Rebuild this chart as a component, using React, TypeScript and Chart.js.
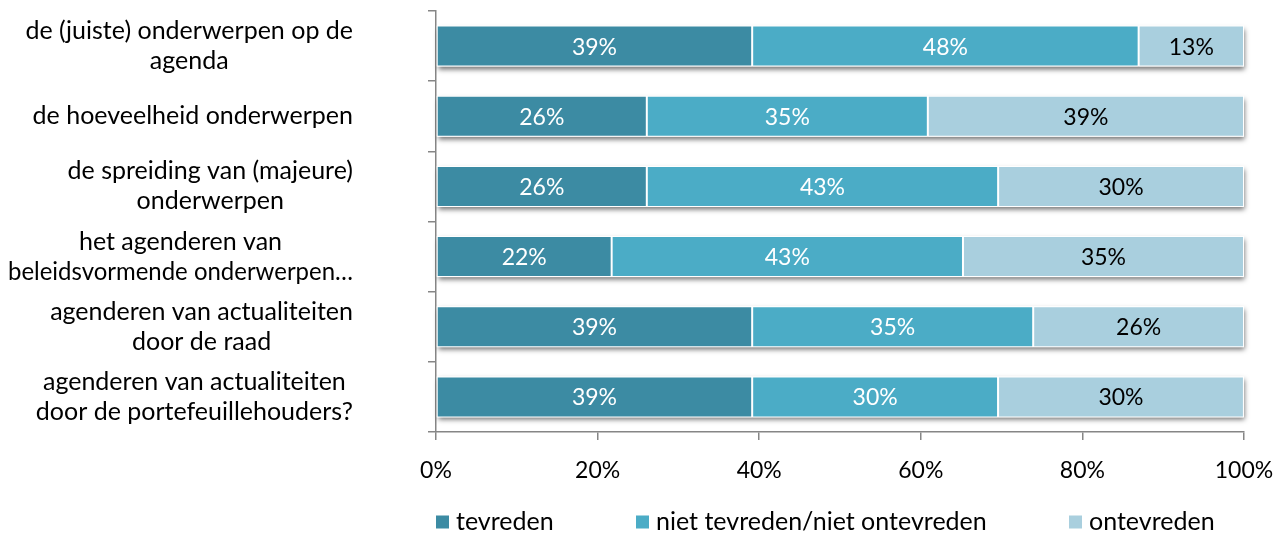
import React, { useEffect, useLayoutEffect, useRef } from "react";
import { Chart, registerables } from "chart.js";

Chart.register(...registerables);

const categories: string[][] = [
  ["de (juiste) onderwerpen op de", "agenda"],
  ["de hoeveelheid onderwerpen"],
  ["de spreiding van (majeure)", "onderwerpen"],
  ["het agenderen van", "beleidsvormende onderwerpen…"],
  ["agenderen van actualiteiten", "door de raad"],
  ["agenderen van actualiteiten", "door de portefeuillehouders?"],
];
const seriesNames = ["tevreden", "niet tevreden/niet ontevreden", "ontevreden"];
const tevreden = [39.13, 26.09, 26.09, 21.74, 39.13, 39.13];
const neutraal = [47.83, 34.78, 43.48, 43.48, 34.78, 30.43];
const ontevreden = [13.04, 39.13, 30.43, 34.78, 26.09, 30.43];
const xTicks = [0, 20, 40, 60, 80, 100];

const seriesValues = [tevreden, neutraal, ontevreden];
const colors = ["#3C8BA3", "#4BACC6", "#A9CFDE"];
const labelColors = ["#ffffff", "#ffffff", "#000000"];

const FONT = "Lato";
const FS_NUM = 23;
const FS_TEXT = 25;
const CANVAS_W = 1277;
const CANVAS_H = 533;
const PLOT_LEFT = 436;
const PLOT_BOTTOM = 432;
const AXIS_COLOR = "#868686";
const legendX = [436, 636, 1069];
const legendY = 522;

const shadowPlugin = {
  id: "barShadow",
  beforeDatasetsDraw(chart: any) {
    const ctx = chart.ctx;
    const n = chart.data.datasets.length;
    const first = chart.getDatasetMeta(0);
    const last = chart.getDatasetMeta(n - 1);
    first.data.forEach((el: any, i: number) => {
      const p = el.getProps(["base", "y", "height"], true);
      const end = last.data[i].getProps(["x"], true).x;
      ctx.save();
      ctx.shadowColor = "rgba(0,0,0,0.55)";
      ctx.shadowBlur = 5;
      ctx.shadowOffsetY = 3;
      ctx.shadowOffsetX = 1;
      ctx.fillStyle = "#ffffff";
      ctx.fillRect(p.base, p.y - p.height / 2, end - p.base, p.height);
      ctx.restore();
    });
  },
};

const valueLabelPlugin = {
  id: "valueLabels",
  afterDatasetsDraw(chart: any) {
    const ctx = chart.ctx;
    ctx.save();
    ctx.font = `${FS_NUM}px ${FONT}`;
    ctx.textAlign = "center";
    ctx.textBaseline = "middle";
    chart.data.datasets.forEach((ds: any, di: number) => {
      const meta = chart.getDatasetMeta(di);
      ctx.fillStyle = labelColors[di];
      meta.data.forEach((el: any, i: number) => {
        const p = el.getProps(["x", "base", "y"], true);
        ctx.fillText(Math.round(ds.data[i]) + "%", (p.x + p.base) / 2, p.y + 1);
      });
    });
    ctx.restore();
  },
};

const categoryLabelPlugin = {
  id: "categoryLabels",
  afterDraw(chart: any) {
    const ctx = chart.ctx;
    const yScale = chart.scales.y;
    const right = chart.chartArea.left - 83;
    const maxAllowed = right - 8;
    const lineH = 30;
    ctx.save();
    ctx.font = `${FS_TEXT}px ${FONT}`;
    ctx.fillStyle = "#000000";
    ctx.textAlign = "center";
    ctx.textBaseline = "middle";
    categories.forEach((lines, i) => {
      const yc = yScale.getPixelForValue(i);
      const maxW = Math.min(maxAllowed, Math.max(...lines.map((l) => ctx.measureText(l).width)));
      const cx = right - maxW / 2;
      lines.forEach((l, k) => {
        ctx.fillText(l, cx, yc + (k - (lines.length - 1) / 2) * lineH, maxAllowed);
      });
    });
    ctx.restore();
  },
};

const legendPlugin = {
  id: "customLegend",
  afterDraw(chart: any) {
    const ctx = chart.ctx;
    ctx.save();
    ctx.font = `${FS_TEXT}px ${FONT}`;
    ctx.textAlign = "left";
    ctx.textBaseline = "middle";
    chart.data.datasets.forEach((ds: any, di: number) => {
      const x = legendX[di];
      ctx.fillStyle = ds.backgroundColor;
      ctx.fillRect(x, legendY - 6.5, 13, 13);
      ctx.fillStyle = "#000000";
      ctx.fillText(ds.label, x + 20, legendY);
    });
    ctx.restore();
  },
};

export default function App() {
  const ref = useRef<HTMLCanvasElement | null>(null);
  useLayoutEffect(() => {
    document.body.style.margin = "0";
    document.body.style.overflow = "hidden";
  }, []);
  useEffect(() => {
    if (!ref.current) return;
    const chart = new Chart(ref.current, {
      type: "bar",
      data: {
        labels: categories.map((c) => c.join(" ")),
        datasets: seriesNames.map((name, di) => ({
          label: name,
          data: seriesValues[di],
          backgroundColor: colors[di],
          borderColor: "rgba(255,255,255,0.95)",
          borderWidth: 1,
          borderSkipped: false,
          barPercentage: 0.585,
          categoryPercentage: 1,
        })),
      },
      options: {
        indexAxis: "y",
        animation: false,
        responsive: false,
        devicePixelRatio: 1,
        layout: { padding: { top: 11, right: 33, left: 0, bottom: 0 } },
        plugins: {
          legend: { display: false },
          tooltip: { enabled: false },
        },
        scales: {
          x: {
            type: "linear",
            stacked: true,
            min: 0,
            max: 100,
            afterBuildTicks: (s: any) => {
              s.ticks = xTicks.map((v) => ({ value: v }));
            },
            afterFit: (s: any) => {
              s.height = CANVAS_H - PLOT_BOTTOM;
              s.paddingLeft = 0;
              s.paddingRight = 0;
            },
            ticks: {
              callback: (v: any) => v + "%",
              color: "#000000",
              font: { family: FONT, size: FS_NUM },
              padding: 17,
              maxRotation: 0,
            },
            grid: {
              drawOnChartArea: false,
              drawTicks: true,
              tickLength: 8,
              color: AXIS_COLOR,
              lineWidth: 1.5,
            },
            border: { color: AXIS_COLOR, width: 1.5 },
          },
          y: {
            type: "category",
            stacked: true,
            afterFit: (s: any) => {
              s.width = PLOT_LEFT;
              s.paddingTop = 0;
              s.paddingBottom = 0;
            },
            ticks: { display: false },
            grid: {
              drawOnChartArea: false,
              drawTicks: true,
              tickLength: 8,
              offset: true,
              color: AXIS_COLOR,
              lineWidth: 1.5,
            },
            border: { color: AXIS_COLOR, width: 1.5 },
          },
        },
      },
      plugins: [shadowPlugin, valueLabelPlugin, categoryLabelPlugin, legendPlugin],
    } as any);
    return () => chart.destroy();
  }, []);

  return (
    <div style={{ width: CANVAS_W, height: CANVAS_H }}>
      <canvas ref={ref} width={CANVAS_W} height={CANVAS_H} style={{ width: CANVAS_W, height: CANVAS_H, display: "block" }} />
    </div>
  );
}
